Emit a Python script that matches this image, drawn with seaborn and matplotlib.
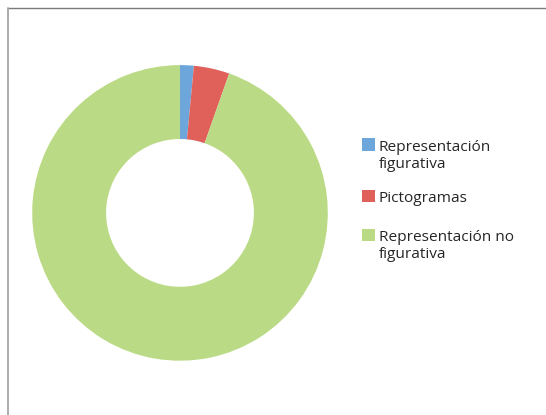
import matplotlib
matplotlib.use("Agg")
import matplotlib.pyplot as plt
from matplotlib.patches import Rectangle
from matplotlib.lines import Line2D
import seaborn as sns

categories = ["Representación\nfigurativa", "Pictogramas", "Representación no\nfigurativa"]
values = [1.5, 3.9, 94.6]
colors = ["#6CA6DA", "#E0605A", "#BBDA85"]

sns.set_theme(style="white")
plt.rcParams["font.family"] = ["Open Sans", "DejaVu Sans"]

W, H = 546, 415
fig = plt.figure(figsize=(W / 100, H / 100), dpi=100)
fig.patch.set_facecolor("white")

# pie axes: center (180, 213), outer radius ~148 px
cx, cy, r = 180.0, 212.9, 147.8
ax = fig.add_axes([(cx - r) / W, 1 - (cy + r) / H, 2 * r / W, 2 * r / H])
ax.pie(values, colors=colors, startangle=90, counterclock=False, radius=1.0,
       wedgeprops=dict(width=0.5, edgecolor="none", linewidth=0, antialiased=True))
ax.set_xlim(-1, 1)
ax.set_ylim(-1, 1)
ax.set_aspect("equal")
ax.axis("off")

# legend (manual, square aligned with first line of label)
sq = 12.5
lx, tx = 362.0, 379.0
baselines = [[150.7, 168.3], [202.3], [241.0, 258.3]]
for lab, col, bl in zip(categories, colors, baselines):
    fig.patches.append(Rectangle((lx / W, 1 - bl[0] / H), sq / W, sq / H,
                                 transform=fig.transFigure, facecolor=col,
                                 edgecolor="none", figure=fig))
    for line, y in zip(lab.split("\n"), bl):
        fig.text(tx / W, 1 - y / H, line, fontsize=11.1, color="#262626",
                 va="baseline", ha="left")

# chart-area border (top and left visible)
fig.add_artist(Line2D([7.5 / W, 1], [1 - 8 / H, 1 - 8 / H], transform=fig.transFigure,
                      color="#7a7a7a", linewidth=1.0))
fig.add_artist(Line2D([7.5 / W, 7.5 / W], [0, 1 - 8 / H], transform=fig.transFigure,
                      color="#a6a6a6", linewidth=1.3))

fig.savefig("out.png", dpi=100, facecolor="white")
